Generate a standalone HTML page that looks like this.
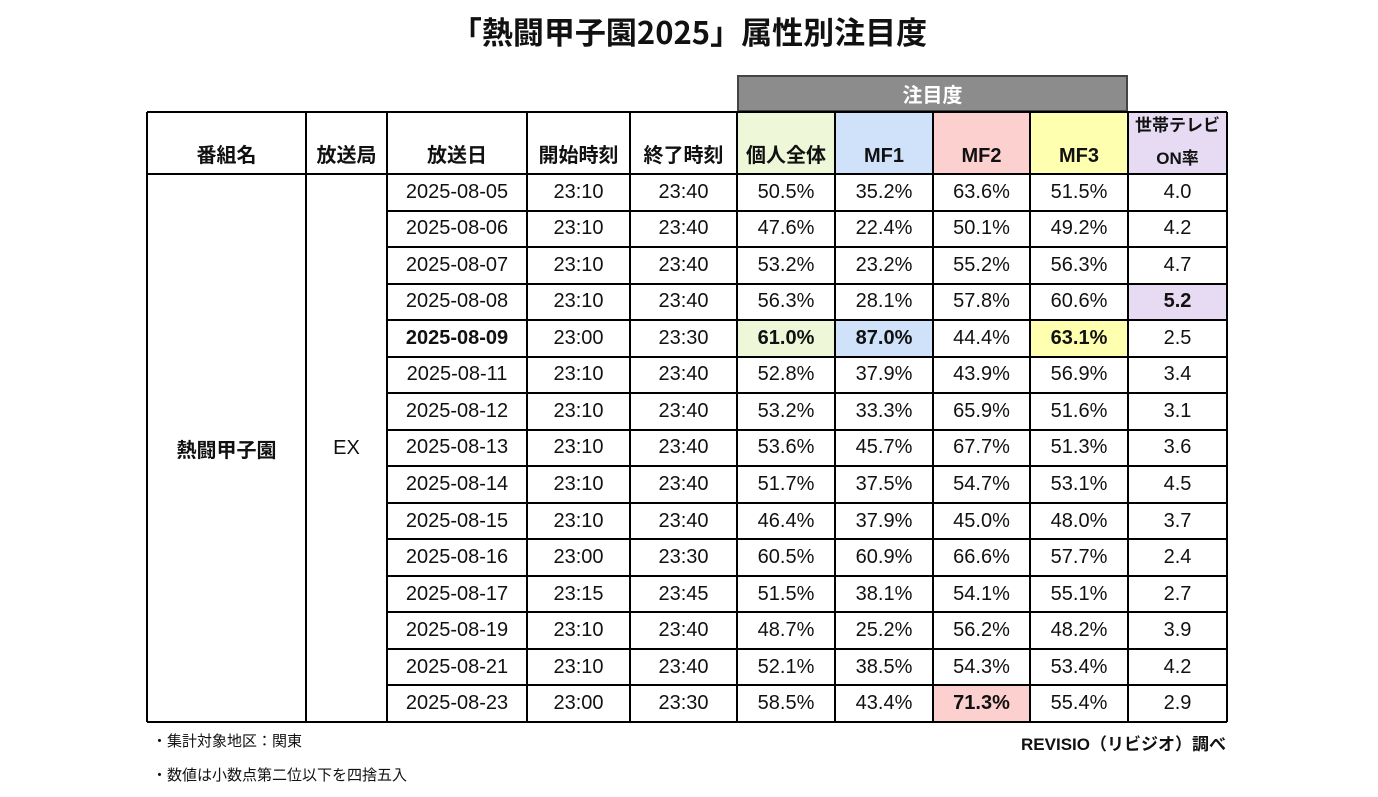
<!DOCTYPE html>
<html><head><meta charset="utf-8">
<style>
body{margin:0;width:1378px;height:797px;background:#fff;position:relative;overflow:hidden;font-family:"Liberation Sans","Noto Sans CJK JP",sans-serif;color:#111}
.c{position:absolute;box-sizing:border-box;display:flex;align-items:center;justify-content:center;font-size:20px}
.ln{position:absolute;background:#000}
</style></head><body>
<div style="position:absolute;left:0;width:1378px;top:8px;text-align:center;font-size:31px;font-weight:bold;font-family:'Noto Sans CJK JP',sans-serif">「熱闘甲子園2025」属性別注目度</div>
<div id="t"></div>
<div style="position:absolute;left:152px;top:730px;font-size:15px;font-family:'Noto Sans CJK JP',sans-serif">・集計対象地区：関東</div>
<div style="position:absolute;left:152px;top:764px;font-size:15px;font-family:'Noto Sans CJK JP',sans-serif">・数値は小数点第二位以下を四捨五入</div>
<div style="position:absolute;right:152px;top:730px;font-size:17px;font-weight:bold;font-family:'Liberation Sans','Noto Sans CJK JP',sans-serif">REVISIO（リビジオ）調べ</div>
<script>
const dates=["2025-08-05","2025-08-06","2025-08-07","2025-08-08","2025-08-09","2025-08-11","2025-08-12","2025-08-13","2025-08-14","2025-08-15","2025-08-16","2025-08-17","2025-08-19","2025-08-21","2025-08-23"];
const starts=["23:10","23:10","23:10","23:10","23:00","23:10","23:10","23:10","23:10","23:10","23:00","23:15","23:10","23:10","23:00"];
const ends=["23:40","23:40","23:40","23:40","23:30","23:40","23:40","23:40","23:40","23:40","23:30","23:45","23:40","23:40","23:30"];
const overall=[50.5,47.6,53.2,56.3,61.0,52.8,53.2,53.6,51.7,46.4,60.5,51.5,48.7,52.1,58.5];
const mf1=[35.2,22.4,23.2,28.1,87.0,37.9,33.3,45.7,37.5,37.9,60.9,38.1,25.2,38.5,43.4];
const mf2=[63.6,50.1,55.2,57.8,44.4,43.9,65.9,67.7,54.7,45.0,66.6,54.1,56.2,54.3,71.3];
const mf3=[51.5,49.2,56.3,60.6,63.1,56.9,51.6,51.3,53.1,48.0,57.7,55.1,48.2,53.4,55.4];
const tvOn=[4.0,4.2,4.7,5.2,2.5,3.4,3.1,3.6,4.5,3.7,2.4,2.7,3.9,4.2,2.9];
const X=[147,306,387,527,630,737,835,933,1030,1128,1227];
const HT=112,HB=174,RB=722,RH=(RB-HB)/15;
const t=document.getElementById('t');
function cell(x0,x1,y0,y1,txt,bg,bold,name){
 const d=document.createElement('div');d.className='c';
 d.style.cssText=`left:${x0}px;width:${x1-x0}px;top:${y0}px;height:${y1-y0}px;background:${bg||'transparent'};font-weight:${bold?'bold':'normal'}`;
 d.textContent=txt;
 
 
 t.appendChild(d);return d;}
function line(x,y,w,h){const d=document.createElement('div');d.className='ln';d.style.cssText=`left:${x}px;top:${y}px;width:${w}px;height:${h}px`;t.appendChild(d);}
// group header
const g=cell(737,1128,75,HT,'注目度','#8c8c8c',true,'attention-group-header');g.style.color='#fff';g.style.border='2px solid #444';
const heads=['番組名','放送局','放送日','開始時刻','終了時刻','個人全体','MF1','MF2','MF3','世帯テレビ\nON率'];
const hbg=[0,0,0,0,0,'#eef8d8','#cfe2fa','#fdd0d0','#ffffb0','#e6dbf2'];
heads.forEach((h,i)=>{const d=cell(X[i],X[i+1],HT,HB,'',hbg[i]||'',true,'column-header');
 d.style.alignItems='flex-end';d.style.paddingBottom='6px';
 if(i==9){d.style.flexDirection='column';d.style.alignItems='center';d.style.justifyContent='center';d.style.fontSize='17px';d.innerHTML='<div>世帯テレビ</div><div style="margin-top:8px">ON率</div>';}
 else d.textContent=h;});
cell(X[0],X[1],HB,RB,'熱闘甲子園','',true,'program-name');
cell(X[1],X[2],HB,RB,'EX','',false,'station-name');
const hl={'4-5':'#eef8d8','4-6':'#cfe2fa','4-8':'#ffffb0','14-7':'#fdd0d0','3-9':'#e6dbf2'};
for(let r=0;r<dates.length;r++){
 const y0=HB+r*RH,y1=y0+RH;
 const vals=[dates[r],starts[r],ends[r],overall[r].toFixed(1)+'%',mf1[r].toFixed(1)+'%',mf2[r].toFixed(1)+'%',mf3[r].toFixed(1)+'%',tvOn[r].toFixed(1)];
 vals.forEach((v,j)=>{const c=j+2;const k=r+'-'+c;const bg=hl[k];
  cell(X[c],X[c+1],y0,y1,v,bg||'',!!bg||(r==4&&c==2),'data-cell');});
 if(r>0)line(X[2],Math.round(y0)-1,X[10]-X[2],2);
}
// borders
line(X[0],HT-1,X[10]-X[0],2);line(X[0],HB-1,X[10]-X[0],2);line(X[0],RB-1,X[10]-X[0],2);
X.forEach(x=>line(x-1,HT,2,RB-HT));
</script>
</body></html>
